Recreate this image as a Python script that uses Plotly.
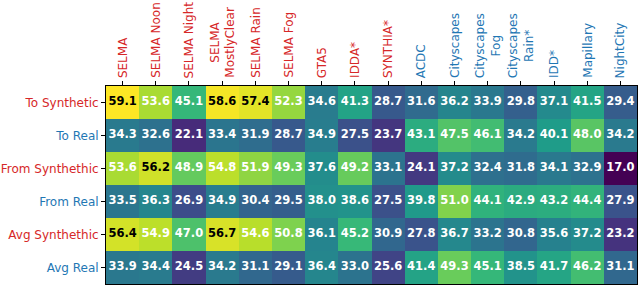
import plotly.graph_objects as go

columns = ["SELMA", "SELMA Noon", "SELMA Night", "SELMA<br>MostlyClear", "SELMA Rain", "SELMA Fog",
           "GTA5", "IDDA*", "SYNTHIA*", "ACDC", "Cityscapes", "Cityscapes<br>Fog",
           "Cityscapes<br>Rain*", "IDD*", "Mapillary", "NightCity"]
column_kind = ["syn"] * 9 + ["real"] * 7
rows = ["To Synthetic", "To Real", "From Synthethic", "From Real", "Avg Synthethic", "Avg Real"]
row_kind = ["syn", "real", "syn", "real", "syn", "real"]

to_synthetic = [59.1, 53.6, 45.1, 58.6, 57.4, 52.3, 34.6, 41.3, 28.7, 31.6, 36.2, 33.9, 29.8, 37.1, 41.5, 29.4]
to_real = [34.3, 32.6, 22.1, 33.4, 31.9, 28.7, 34.9, 27.5, 23.7, 43.1, 47.5, 46.1, 34.2, 40.1, 48.0, 34.2]
from_synthetic = [53.6, 56.2, 48.9, 54.8, 51.9, 49.3, 37.6, 49.2, 33.1, 24.1, 37.2, 32.4, 31.8, 34.1, 32.9, 17.0]
from_real = [33.5, 36.3, 26.9, 34.9, 30.4, 29.5, 38.0, 38.6, 27.5, 39.8, 51.0, 44.1, 42.9, 43.2, 44.4, 27.9]
avg_synthetic = [56.4, 54.9, 47.0, 56.7, 54.6, 50.8, 36.1, 45.2, 30.9, 27.8, 36.7, 33.2, 30.8, 35.6, 37.2, 23.2]
avg_real = [33.9, 34.4, 24.5, 34.2, 31.1, 29.1, 36.4, 33.0, 25.6, 41.4, 49.3, 45.1, 38.5, 41.7, 46.2, 31.1]

z = [to_synthetic, to_real, from_synthetic, from_real, avg_synthetic, avg_real]

RED = "#d62728"
BLUE = "#1f77b4"
FONT = "DejaVu Sans"

def colored(label, kind):
    c = RED if kind == "syn" else BLUE
    parts = label.split("<br>")
    return "<br>".join(f"<span style='color:{c}'>{p}</span>" for p in parts)

xs = list(range(len(columns)))
ys = list(range(len(rows)))

fig = go.Figure()
fig.add_trace(go.Heatmap(
    z=z, x=xs, y=ys, colorscale="Viridis", zmin=17.0, zmax=59.1,
    showscale=False, xgap=0, ygap=0, hoverinfo="skip"))

tx, ty, tt, tc = [], [], [], []
for i, r in enumerate(z):
    for j, v in enumerate(r):
        tx.append(j); ty.append(i); tt.append(f"<b>{v:.1f}</b>")
        tc.append("black" if v >= 56 else "white")
fig.add_trace(go.Scatter(x=tx, y=ty, mode="text", text=tt,
                         textfont=dict(family=FONT, size=11.5, color=tc),
                         hoverinfo="skip", showlegend=False))

for j, (c, k) in enumerate(zip(columns, column_kind)):
    fig.add_annotation(
        x=j, xref="x", y=1, yref="paper", yanchor="bottom", xanchor="center",
        yshift=6, text=c, textangle=-90, showarrow=False, align="center",
        font=dict(family=FONT, size=12, color=RED if k == "syn" else BLUE))

fig.update_xaxes(
    side="top", tickmode="array", tickvals=xs, showticklabels=False,
    ticks="outside", ticklen=4, tickcolor="black",
    range=[-0.5, len(columns) - 0.5],
    showline=True, linecolor="black", linewidth=1, mirror=True,
    showgrid=False, zeroline=False)
fig.update_yaxes(
    tickmode="array", tickvals=ys,
    ticktext=[colored(r, k) for r, k in zip(rows, row_kind)],
    ticks="outside", ticklen=4, tickcolor="black",
    tickfont=dict(family=FONT, size=12), range=[len(rows) - 0.5, -0.5],
    showline=True, linecolor="black", linewidth=1, mirror=True,
    showgrid=False, zeroline=False, automargin=False)

fig.update_layout(
    width=640, height=286, margin=dict(l=106, r=3, t=86, b=2),
    paper_bgcolor="white", plot_bgcolor="white", showlegend=False,
    font=dict(family=FONT))

fig.write_html("out.html", config={"displayModeBar": False},
               post_script="document.body.style.margin='0';")
